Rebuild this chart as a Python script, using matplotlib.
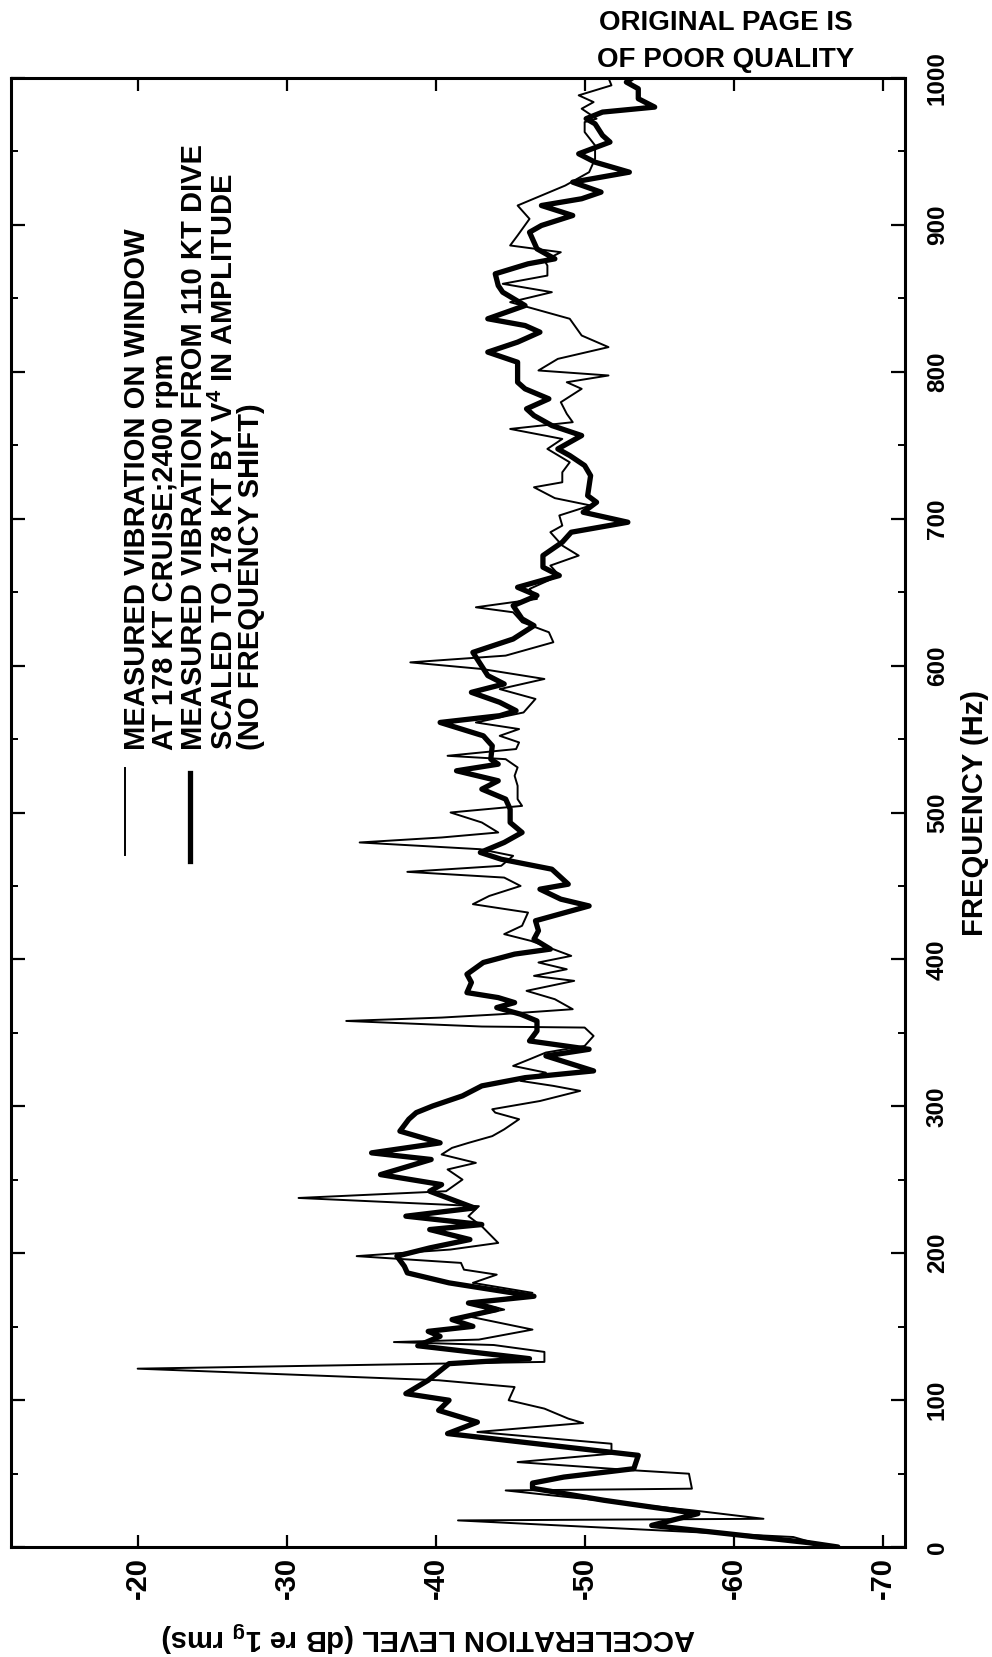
import matplotlib
matplotlib.use("Agg")
import matplotlib.pyplot as plt
from matplotlib.lines import Line2D
from matplotlib.ticker import MultipleLocator

# Cruise measurement at 178 kt (thin line): frequency (Hz) and level (dB re 1g rms)
cruise_freq = [1, 6.8, 18.1, 19.2, 24.9, 38.5, 39.7, 49.9, 52.2, 57.8, 63.5, 70.3, 78.3, 84.4,
               87.4, 94.2, 99.9, 108.9, 113.5, 121.4, 126, 132.8, 137.5, 139.5, 141.2, 148,
               157, 161.6, 166.1, 173, 179.8, 185.4, 188.8, 193.4, 198, 202.5, 207, 218.3,
               225.2, 232, 237.6, 242.2, 250.1, 257, 261.5, 267.2, 271.7, 275.1, 279.7,
               284.3, 291.2, 295.7, 298, 303.6, 310.5, 313.9, 317.3, 322.9, 327.5, 332,
               336.6, 341.1, 347.9, 353.6, 354.3, 358.1, 360.4, 362.7, 366.1, 372.9, 378.6,
               385.4, 388.8, 393.3, 397.9, 402.4, 412.6, 417.2, 422.9, 431.9, 437.6, 443.2,
               450, 455.7, 459.6, 463.7, 470.5, 475, 479.6, 483, 486.4, 493.2, 500, 504.5,
               509.1, 518.2, 525, 530.7, 536.3, 538.6, 543.2, 547.7, 552.2, 556.8, 561.3,
               568.1, 577.3, 584, 590.9, 597.7, 602.2, 606.8, 615.9, 622.7, 629.5, 636.3,
               639.7, 645.4, 652.2, 661.3, 668.1, 674.9, 681.7, 690.8, 695.3, 702.2, 709,
               714, 721.4, 724.8, 731.6, 738.4, 747.5, 754.3, 761.1, 765.7, 771.4, 779.3,
               788.4, 792.9, 797.5, 800.9, 808.8, 816.8, 824.7, 836.1, 847.4, 854.2, 859.9,
               865.5, 872.3, 875.8, 881.4, 886, 892.8, 904.1, 913.2, 920, 926.8, 935.9, 945,
               954.1, 963.2, 970, 972.3, 979.1, 983.6, 988.2, 995, 1000]
cruise_level = [-66.0, -64.0, -41.5, -62.0, -57.3, -44.7, -57.2, -57.0, -53.3, -45.5, -51.8,
                -51.8, -42.8, -49.9, -48.9, -47.3, -44.9, -45.3, -40.2, -20.0, -47.3, -47.3,
                -43.9, -37.2, -42.9, -46.5, -42.2, -44.6, -43.0, -46.5, -42.5, -44.1, -41.9,
                -41.7, -34.7, -41.0, -44.2, -43.1, -42.2, -42.9, -30.8, -40.7, -41.8, -40.8,
                -42.7, -40.4, -41.1, -42.2, -43.8, -44.6, -45.6, -44.0, -43.8, -47.0, -49.7,
                -47.9, -45.7, -47.4, -45.2, -46.3, -47.4, -50.0, -50.6, -50.0, -43.1, -34.0,
                -40.4, -44.4, -49.2, -48.0, -46.1, -49.3, -46.6, -48.8, -46.9, -49.1, -46.4,
                -44.6, -45.8, -46.2, -42.5, -43.6, -45.7, -44.6, -38.1, -44.4, -45.2, -43.0,
                -34.9, -40.4, -44.2, -43.1, -41.0, -45.8, -45.5, -45.5, -45.3, -45.5, -44.7,
                -40.8, -45.4, -45.6, -44.3, -45.6, -42.7, -45.9, -46.7, -44.3, -47.3, -43.1,
                -38.3, -44.7, -47.9, -47.6, -45.8, -45.2, -42.7, -46.8, -46.3, -48.3, -47.7,
                -49.6, -48.5, -47.7, -48.5, -48.3, -50.4, -48.0, -46.6, -48.5, -48.5, -49.0,
                -47.5, -48.5, -45.0, -49.2, -48.8, -48.4, -49.8, -48.8, -51.6, -46.9, -48.2,
                -51.6, -49.8, -49.0, -45.0, -47.8, -44.5, -47.5, -47.5, -47.3, -48.4, -45.0,
                -45.5, -46.3, -45.5, -47.1, -48.7, -50.3, -50.7, -50.7, -50.0, -50.0, -50.8,
                -49.8, -50.6, -49.6, -51.8, -51.6]

# 110 kt dive measurement scaled to 178 kt by V^4 (thick line)
dive_freq = [0, 3, 14.7, 22.7, 31.8, 40, 43.5, 47.6, 53.3, 62.4, 77.2, 85, 93, 99.9, 104.4,
             113.5, 124.8, 128.2, 137, 143.4, 146.8, 150.2, 154.8, 161.6, 166.1, 170.7,
             179.8, 186.6, 191.1, 198, 203.6, 209.3, 216.1, 219.5, 225.2, 230.8, 242.2,
             246.7, 253.5, 263.8, 268.3, 275.1, 283.1, 291.2, 295.7, 300.2, 307.1, 313.9,
             319.5, 324.1, 334.3, 338.8, 344.5, 351.3, 358.1, 362.7, 367.2, 370.6, 374,
             377.4, 384.3, 389.9, 397.9, 403.6, 407, 413.8, 419.5, 426.3, 436.4, 441,
             447.8, 451.2, 461.4, 468.2, 472.8, 479.6, 486.4, 493.2, 502.3, 509.1, 515.9,
             521.6, 528.4, 532.9, 536.3, 545.4, 552.2, 561.3, 565.9, 569.3, 575, 581.8,
             587.5, 593.2, 609, 618.1, 627.2, 631.8, 640.8, 647.7, 653.3, 661.3, 667,
             674.9, 684, 690.8, 697.6, 704.4, 711.2, 715.7, 729.3, 736.2, 743, 747.5, 756.6,
             763.4, 770.2, 774.8, 781.6, 788.4, 792.9, 802, 806.5, 813.4, 820.2, 827,
             831.5, 836.1, 845.1, 854.2, 858.7, 866.7, 873.5, 876.9, 883.7, 895, 899.6,
             906.4, 913.2, 917.8, 922.3, 929.1, 935.9, 942.7, 948.4, 956.4, 960.9, 968.8,
             972.3, 976.8, 980.2, 985.9, 992.7, 997.2, 1000]
dive_level = [-67.0, -65.0, -54.5, -57.6, -51.3, -46.5, -46.5, -48.6, -53.3, -53.6, -40.8,
              -42.8, -40.2, -40.9, -38.0, -39.5, -40.9, -46.3, -38.8, -40.3, -39.5, -42.5,
              -41.1, -44.1, -42.2, -46.6, -40.9, -38.1, -37.9, -37.4, -39.6, -42.3, -39.6,
              -43.1, -38.0, -42.6, -39.6, -40.4, -36.3, -39.7, -35.7, -40.3, -37.6, -38.2,
              -38.7, -39.8, -41.8, -43.1, -46.0, -50.6, -47.4, -50.3, -46.3, -46.8, -46.8,
              -45.7, -44.1, -45.3, -44.2, -42.1, -42.4, -42.1, -43.2, -45.3, -47.7, -46.6,
              -46.9, -46.7, -50.3, -48.4, -47.0, -48.9, -47.8, -44.4, -43.0, -44.6, -45.8,
              -45.0, -45.0, -44.7, -43.1, -44.2, -41.4, -44.2, -43.7, -43.8, -43.2, -40.3,
              -44.3, -45.4, -44.3, -42.4, -44.6, -43.5, -42.5, -45.2, -46.6, -45.8, -45.2,
              -46.8, -45.5, -48.3, -47.2, -47.2, -48.5, -49.1, -52.9, -49.9, -50.8, -50.2,
              -50.4, -50.0, -49.0, -48.2, -49.8, -47.8, -46.6, -46.1, -47.6, -46.0, -45.5,
              -45.5, -45.5, -43.5, -45.5, -47.0, -46.0, -43.5, -46.0, -44.5, -44.2, -44.0,
              -46.2, -48.0, -46.8, -46.3, -47.1, -49.2, -47.1, -49.8, -51.1, -49.2, -53.0,
              -50.7, -49.6, -51.7, -51.2, -50.7, -50.1, -51.2, -54.7, -53.6, -53.6, -52.8,
              -53.2]

level_ticks = [-20, -30, -40, -50, -60, -70]
level_labels = ["-20", "-30", "-40", "-50", "-60", "-70"]
freq_ticks = [0, 100, 200, 300, 400, 500, 600, 700, 800, 900, 1000]
freq_labels = ["0", "100", "200", "300", "400", "500", "600", "700", "800", "900", "1000"]

legend_lines = [
    "MEASURED VIBRATION ON WINDOW",
    "AT 178 KT CRUISE;2400 rpm",
    "MEASURED VIBRATION FROM 110 KT DIVE",
    r"SCALED TO 178 KT BY V$^{\mathregular{4}}$ IN AMPLITUDE",
    "(NO FREQUENCY SHIFT)",
]

FONT = ["Liberation Sans", "DejaVu Sans"]

W, H = 992, 1657
fig = plt.figure(figsize=(W / 100, H / 100), dpi=100)
fig.patch.set_facecolor("white")


def fx(px):
    return px / W


def fy(py):
    return 1 - py / H


ax = fig.add_axes([fx(11), fy(1547), fx(905) - fx(11), fy(78) - fy(1547)])
ax.plot(cruise_level, cruise_freq, color="black", lw=1.4, solid_joinstyle="round")
ax.plot(dive_level, dive_freq, color="black", lw=3.8, solid_joinstyle="round",
        solid_capstyle="round")

ax.set_xlim(-11.5, -71.5)
ax.set_ylim(0, 1000)

for s in ax.spines.values():
    s.set_linewidth(2.2)

ax.set_xticks(level_ticks)
ax.set_xticklabels(level_labels, fontfamily=FONT, fontweight="bold", fontsize=21)
ax.set_yticks(freq_ticks)
ax.set_yticklabels(freq_labels, fontfamily=FONT, fontweight="bold", fontsize=17.5)
ax.yaxis.set_minor_locator(MultipleLocator(50))

ax.tick_params(axis="x", which="major", direction="in", length=9, width=1.6,
               top=True, bottom=True, labelrotation=90, pad=7)
ax.tick_params(axis="y", which="major", direction="in", length=10, width=1.6,
               left=True, right=True, labelleft=False, labelright=True,
               labelrotation=90, pad=15)
ax.tick_params(axis="y", which="minor", direction="in", length=5, width=1.4,
               left=True, right=True)
for lab in ax.get_yticklabels():
    lab.set_verticalalignment("center")

# axis titles
fig.text(fx(975), fy(813), "FREQUENCY (Hz)", rotation=90, ha="center", va="center",
         fontfamily=FONT, fontweight="bold", fontsize=21)
fig.text(fx(428), fy(1636), r"ACCELERATION LEVEL (dB re 1$_{\mathregular{g}}$ rms)",
         rotation=180, ha="center", va="center",
         fontfamily=FONT, fontweight="bold", fontsize=21)

# legend
cols = [137, 165, 194, 224, 251]
for xc, txt in zip(cols, legend_lines):
    fig.text(fx(xc), fy(750), txt, rotation=90, ha="center", va="bottom",
             fontfamily=FONT, fontweight="bold", fontsize=21)
fig.add_artist(Line2D([fx(125), fx(125)], [fy(768), fy(855)], color="black", lw=1.4))
fig.add_artist(Line2D([fx(190), fx(190)], [fy(773), fy(861)], color="black", lw=3.8))

# stamp
fig.text(fx(726), fy(23), "ORIGINAL PAGE IS", ha="center", va="center",
         fontfamily=FONT, fontweight="bold", fontsize=20)
fig.text(fx(726), fy(60), "OF POOR QUALITY", ha="center", va="center",
         fontfamily=FONT, fontweight="bold", fontsize=20)

fig.savefig("out.png", dpi=100, facecolor="white")
